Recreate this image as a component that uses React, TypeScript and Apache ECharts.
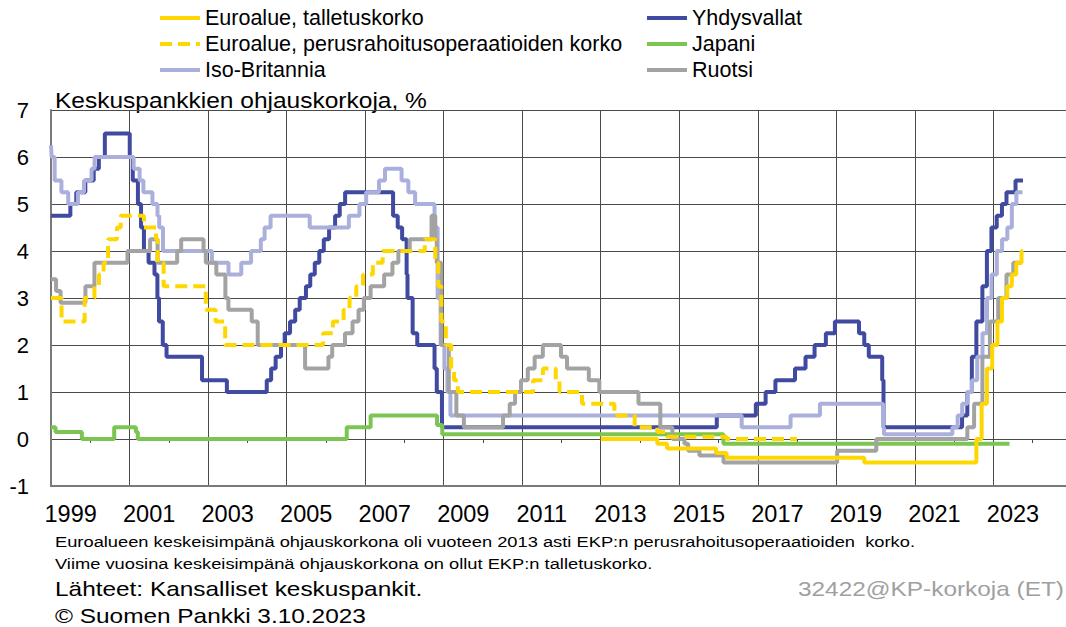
import React, { useEffect, useRef } from "react";
import * as echarts from "echarts";

type Pt = [string, number];

const FONT = "'Liberation Sans', Arial, Helvetica, sans-serif";

const seriesNames = [
  "Euroalue, talletuskorko",
  "Euroalue, perusrahoitusoperaatioiden korko",
  "Iso-Britannia",
  "Yhdysvallat",
  "Japani",
  "Ruotsi",
];

const yTicks = [-1, 0, 1, 2, 3, 4, 5, 6, 7];
const yearLabels = [1999, 2001, 2003, 2005, 2007, 2009, 2011, 2013, 2015, 2017, 2019, 2021, 2023];
const evenYears = [2000, 2002, 2004, 2006, 2008, 2010, 2012, 2014, 2016, 2018, 2020, 2022, 2024];

const ecbDeposit: Pt[] = [
  ["2013-01-01", 0.0], ["2014-06-11", -0.1], ["2014-09-10", -0.2], ["2015-12-09", -0.3],
  ["2016-03-16", -0.4], ["2019-09-18", -0.5], ["2022-07-27", 0.0], ["2022-09-14", 0.75],
  ["2022-11-02", 1.5], ["2022-12-21", 2.0], ["2023-02-08", 2.5], ["2023-03-22", 3.0],
  ["2023-05-10", 3.25], ["2023-06-21", 3.5], ["2023-08-02", 3.75], ["2023-09-20", 4.0],
  ["2023-10-03", 4.0],
];

const ecbRefi: Pt[] = [
  ["1999-01-01", 3.0], ["1999-04-09", 2.5], ["1999-11-10", 3.0], ["2000-02-09", 3.25],
  ["2000-03-22", 3.5], ["2000-05-04", 3.75], ["2000-06-15", 4.25], ["2000-09-06", 4.5],
  ["2000-10-11", 4.75], ["2001-05-15", 4.5], ["2001-09-05", 4.25], ["2001-09-19", 3.75],
  ["2001-11-14", 3.25], ["2002-12-11", 2.75], ["2003-03-12", 2.5], ["2003-06-09", 2.0],
  ["2005-12-06", 2.25], ["2006-03-08", 2.5], ["2006-06-15", 2.75], ["2006-08-09", 3.0],
  ["2006-10-11", 3.25], ["2006-12-13", 3.5], ["2007-03-14", 3.75], ["2007-06-13", 4.0],
  ["2008-07-09", 4.25], ["2008-10-15", 3.75], ["2008-11-12", 3.25], ["2008-12-10", 2.5],
  ["2009-01-21", 2.0], ["2009-03-11", 1.5], ["2009-04-08", 1.25], ["2009-05-13", 1.0],
  ["2011-04-13", 1.25], ["2011-07-13", 1.5], ["2011-11-09", 1.25], ["2011-12-14", 1.0],
  ["2012-07-11", 0.75], ["2013-05-08", 0.5], ["2013-11-13", 0.25], ["2014-06-11", 0.15],
  ["2014-09-10", 0.05], ["2016-03-16", 0.0], ["2017-12-31", 0.0],
];

const uk: Pt[] = [
  ["1999-01-01", 6.25], ["1999-01-07", 6.0], ["1999-02-04", 5.5], ["1999-04-08", 5.25],
  ["1999-06-10", 5.0], ["1999-09-08", 5.25], ["1999-11-04", 5.5], ["2000-01-13", 5.75],
  ["2000-02-10", 6.0], ["2001-02-08", 5.75], ["2001-04-05", 5.5], ["2001-05-10", 5.25],
  ["2001-08-02", 5.0], ["2001-09-18", 4.75], ["2001-10-04", 4.5], ["2001-11-08", 4.0],
  ["2003-02-06", 3.75], ["2003-07-10", 3.5], ["2003-11-06", 3.75], ["2004-02-05", 4.0],
  ["2004-05-06", 4.25], ["2004-06-10", 4.5], ["2004-08-05", 4.75], ["2005-08-04", 4.5],
  ["2006-08-03", 4.75], ["2006-11-09", 5.0], ["2007-01-11", 5.25], ["2007-05-10", 5.5],
  ["2007-07-05", 5.75], ["2007-12-06", 5.5], ["2008-02-07", 5.25], ["2008-04-10", 5.0],
  ["2008-10-08", 4.5], ["2008-11-06", 3.0], ["2008-12-04", 2.0], ["2009-01-08", 1.5],
  ["2009-02-05", 1.0], ["2009-03-05", 0.5], ["2016-08-04", 0.25], ["2017-11-02", 0.5],
  ["2018-08-02", 0.75], ["2020-03-11", 0.25], ["2020-03-19", 0.1], ["2021-12-16", 0.25],
  ["2022-02-03", 0.5], ["2022-03-17", 0.75], ["2022-05-05", 1.0], ["2022-06-16", 1.25],
  ["2022-08-04", 1.75], ["2022-09-22", 2.25], ["2022-11-03", 3.0], ["2022-12-15", 3.5],
  ["2023-02-02", 4.0], ["2023-03-23", 4.25], ["2023-05-11", 4.5], ["2023-06-22", 5.0],
  ["2023-08-03", 5.25], ["2023-09-29", 5.25],
];

const usa: Pt[] = [
  ["1999-01-01", 4.75], ["1999-06-30", 5.0], ["1999-08-24", 5.25], ["1999-11-16", 5.5],
  ["2000-02-02", 5.75], ["2000-03-21", 6.0], ["2000-05-16", 6.5], ["2001-01-03", 6.0],
  ["2001-01-31", 5.5], ["2001-03-20", 5.0], ["2001-04-18", 4.5], ["2001-05-15", 4.0],
  ["2001-06-27", 3.75], ["2001-08-21", 3.5], ["2001-09-17", 3.0], ["2001-10-02", 2.5],
  ["2001-11-06", 2.0], ["2001-12-11", 1.75], ["2002-11-06", 1.25], ["2003-06-25", 1.0],
  ["2004-06-30", 1.25], ["2004-08-10", 1.5], ["2004-09-21", 1.75], ["2004-11-10", 2.0],
  ["2004-12-14", 2.25], ["2005-02-02", 2.5], ["2005-03-22", 2.75], ["2005-05-03", 3.0],
  ["2005-06-30", 3.25], ["2005-08-09", 3.5], ["2005-09-20", 3.75], ["2005-11-01", 4.0],
  ["2005-12-13", 4.25], ["2006-01-31", 4.5], ["2006-03-28", 4.75], ["2006-05-10", 5.0],
  ["2006-06-29", 5.25], ["2007-09-18", 4.75], ["2007-10-31", 4.5], ["2007-12-11", 4.25],
  ["2008-01-22", 3.5], ["2008-01-30", 3.0], ["2008-03-18", 2.25], ["2008-04-30", 2.0],
  ["2008-10-08", 1.5], ["2008-10-29", 1.0], ["2008-12-16", 0.25], ["2015-12-16", 0.5],
  ["2016-12-14", 0.75], ["2017-03-15", 1.0], ["2017-06-14", 1.25], ["2017-12-13", 1.5],
  ["2018-03-21", 1.75], ["2018-06-13", 2.0], ["2018-09-26", 2.25], ["2018-12-19", 2.5],
  ["2019-07-31", 2.25], ["2019-09-18", 2.0], ["2019-10-30", 1.75], ["2020-03-03", 1.25],
  ["2020-03-15", 0.25], ["2022-03-16", 0.5], ["2022-05-04", 1.0], ["2022-06-15", 1.75],
  ["2022-07-27", 2.5], ["2022-09-21", 3.25], ["2022-11-02", 4.0], ["2022-12-14", 4.5],
  ["2023-02-01", 4.75], ["2023-03-22", 5.0], ["2023-05-03", 5.25], ["2023-07-26", 5.5],
  ["2023-10-03", 5.5],
];

const japan: Pt[] = [
  ["1999-01-01", 0.25], ["1999-02-12", 0.15], ["1999-10-15", 0.0], ["2000-08-11", 0.25],
  ["2001-03-01", 0.15], ["2001-03-19", 0.0], ["2006-07-14", 0.25], ["2007-02-21", 0.5],
  ["2008-10-31", 0.3], ["2008-12-19", 0.1], ["2016-02-16", -0.1], ["2023-05-31", -0.1],
];

const sweden: Pt[] = [
  ["1999-01-01", 3.4], ["1999-02-17", 3.15], ["1999-03-31", 2.9], ["1999-11-17", 3.25],
  ["2000-02-09", 3.75], ["2000-12-13", 4.0], ["2001-07-11", 4.25], ["2001-09-19", 3.75],
  ["2002-03-20", 4.0], ["2002-04-26", 4.25], ["2002-11-20", 4.0], ["2002-12-11", 3.75],
  ["2003-03-19", 3.5], ["2003-06-11", 3.0], ["2003-07-09", 2.75], ["2004-02-11", 2.5],
  ["2004-04-07", 2.0], ["2005-06-22", 1.5], ["2006-01-25", 1.75], ["2006-03-01", 2.0],
  ["2006-06-28", 2.25], ["2006-09-06", 2.5], ["2006-11-01", 2.75], ["2006-12-20", 3.0],
  ["2007-02-21", 3.25], ["2007-06-27", 3.5], ["2007-09-12", 3.75], ["2007-11-06", 4.0],
  ["2008-02-20", 4.25], ["2008-09-10", 4.75], ["2008-10-15", 4.25], ["2008-10-29", 3.75],
  ["2008-12-10", 2.0], ["2009-02-18", 1.0], ["2009-04-29", 0.5], ["2009-07-08", 0.25],
  ["2010-07-07", 0.5], ["2010-09-07", 0.75], ["2010-10-27", 1.0], ["2010-12-21", 1.25],
  ["2011-02-22", 1.5], ["2011-04-27", 1.75], ["2011-07-12", 2.0], ["2011-12-28", 1.75],
  ["2012-02-22", 1.5], ["2012-09-12", 1.25], ["2012-12-19", 1.0], ["2013-12-18", 0.75],
  ["2014-07-09", 0.25], ["2014-10-29", 0.0], ["2015-02-18", -0.1], ["2015-03-25", -0.25],
  ["2015-07-08", -0.35], ["2016-02-17", -0.5], ["2019-01-09", -0.25], ["2020-01-08", 0.0],
  ["2022-05-04", 0.25], ["2022-07-06", 0.75], ["2022-09-21", 1.75], ["2022-11-30", 2.5],
  ["2023-02-15", 3.0], ["2023-05-03", 3.5], ["2023-07-05", 3.75], ["2023-09-20", 3.75],
];

const colors = {
  yellow: "#FFD700",
  blue: "#3F4AA0",
  lavender: "#AAB0DB",
  green: "#7CC552",
  gray: "#A3A3A3",
};

function toYear(d: string): number {
  const [y, m, dd] = d.split("-").map(Number);
  const s = Date.UTC(y, 0, 1);
  const e = Date.UTC(y + 1, 0, 1);
  return y + (Date.UTC(y, m - 1, dd) - s) / (e - s);
}

function conv(a: Pt[]): [number, number][] {
  return a.map(([d, v]) => [toYear(d), v]);
}

function lineSeries(name: string, data: Pt[], color: string, dashed = false, z = 2) {
  return {
    name,
    type: "line",
    xAxisIndex: 0,
    yAxisIndex: 0,
    step: "end",
    showSymbol: false,
    symbol: "none",
    data: conv(data),
    z,
    itemStyle: { color },
    lineStyle: { color, width: 4, type: dashed ? [12, 6] : "solid", cap: "butt" },
  };
}

function txt(text: string, x: number, y: number, fontSize: number, scaleX: number, fill = "#000", align = "left") {
  return {
    type: "text",
    x,
    y,
    scaleX,
    style: { text, fontSize, fill, fontFamily: FONT, align, verticalAlign: "middle" },
  };
}

export default function App() {
  const ref = useRef<HTMLDivElement>(null);
  useEffect(() => {
    if (!ref.current) return;
    const chart = echarts.init(ref.current, undefined, { renderer: "svg" });
    const xMin = 1999;
    const xMax = 2024.85;
    const legendCommon = {
      orient: "vertical",
      top: 2,
      itemWidth: 40,
      itemHeight: 14,
      itemGap: 4,
      selectedMode: false,
      itemStyle: { opacity: 0, borderWidth: 0 },
      lineStyle: { width: 4 },
      textStyle: { fontSize: 21.5, color: "#000", fontFamily: FONT, lineHeight: 21.5 },
    };
    chart.setOption({
      animation: false,
      backgroundColor: "#ffffff",
      grid: { left: 51, top: 110, bottom: 141, right: -4, containLabel: false },
      legend: [
        { ...legendCommon, data: [seriesNames[0], seriesNames[1], seriesNames[2]], left: 153 },
        { ...legendCommon, data: [seriesNames[3], seriesNames[4], seriesNames[5]], left: 640 },
      ],
      xAxis: [
        {
          type: "value",
          min: xMin,
          max: xMax,
          interval: 2,
          axisLine: { onZero: false, show: true, lineStyle: { color: "#7a7a7a", width: 2 } },
          axisTick: { show: false },
          splitLine: { show: true, lineStyle: { color: "#4a4a4a", width: 1 } },
          axisLabel: {
            customValues: yearLabels.map((y) => y + 0.5),
            formatter: (v: number) => String(Math.floor(v)),
            fontSize: 23.5,
            color: "#000",
            fontFamily: FONT,
            margin: 16,
          },
        },
        {
          type: "value",
          min: xMin,
          max: xMax,
          interval: 2,
          axisLine: { onZero: true, show: false },
          axisTick: { show: true, inside: true, length: 4, customValues: evenYears, lineStyle: { color: "#4a4a4a" } },
          axisLabel: { show: false },
          splitLine: { show: false },
        },
      ],
      yAxis: {
        type: "value",
        min: -1,
        max: 7,
        interval: 1,
        axisLine: { show: true, lineStyle: { color: "#7a7a7a", width: 2 } },
        axisTick: { show: false },
        splitLine: { show: true, lineStyle: { color: "#4a4a4a", width: 1 } },
        axisLabel: {
          customValues: yTicks,
          fontSize: 22,
          color: "#000",
          fontFamily: FONT,
          margin: 22,
        },
      },
      series: [
        lineSeries(seriesNames[3], usa, colors.blue, false, 2),
        lineSeries(seriesNames[2], uk, colors.lavender, false, 3),
        lineSeries(seriesNames[4], japan, colors.green, false, 4),
        lineSeries(seriesNames[5], sweden, colors.gray, false, 5),
        lineSeries(seriesNames[1], ecbRefi, colors.yellow, true, 6),
        lineSeries(seriesNames[0], ecbDeposit, colors.yellow, false, 7),
      ],
      graphic: [
        txt("Keskuspankkien ohjauskorkoja, %", 55, 100, 22.5, 1.09),
        txt(
          "Euroalueen keskeisimpänä ohjauskorkona oli vuoteen 2013 asti EKP:n perusrahoitusoperaatioiden  korko.",
          55, 542, 15, 1.22
        ),
        txt("Viime vuosina keskeisimpänä ohjauskorkona on ollut EKP:n talletuskorko.", 55, 564, 15, 1.22),
        txt("Lähteet: Kansalliset keskuspankit.", 55, 589, 20, 1.22),
        txt("© Suomen Pankki 3.10.2023", 55, 616, 20, 1.22),
        txt("32422@KP-korkoja (ET)", 1064, 589, 20, 1.22, "#a0a0a0", "right"),
      ],
    });
    return () => chart.dispose();
  }, []);
  return (
    <div
      ref={ref}
      style={{ position: "fixed", left: 0, top: 0, width: 1066, height: 627, background: "#fff" }}
    />
  );
}
